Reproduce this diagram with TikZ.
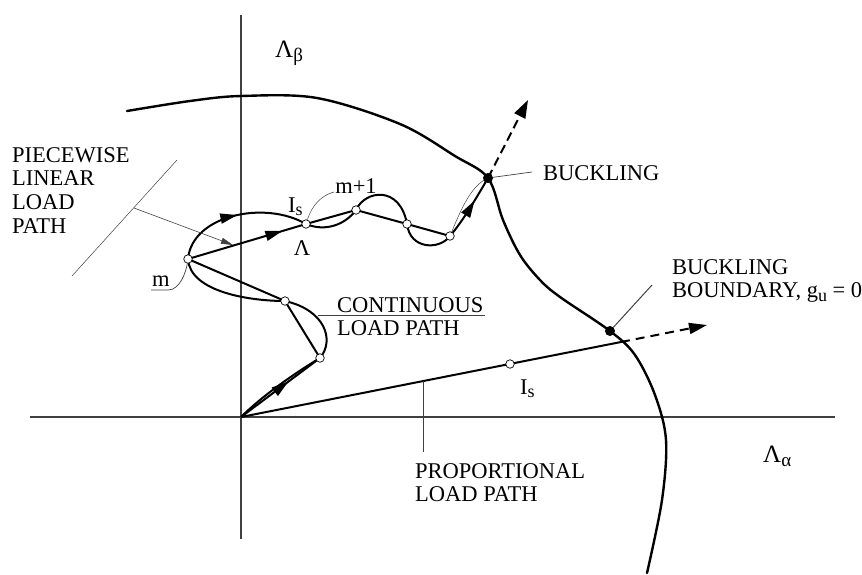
\documentclass[tikz,border=0pt]{standalone}
\usepackage{fontspec}
\setmainfont{Liberation Serif}
\usetikzlibrary{arrows.meta,decorations.markings}

\newcommand\lsub[1]{\raisebox{-3.5pt}{\fontsize{18}{18}\selectfont #1}}

\tikzset{
	axis/.style={black!75, line width=1.1pt},
	boundary/.style={line width=2.4pt, line join=round, line cap=round},
	lpath/.style={line width=2pt, line join=round},
	leader/.style={black!75, line width=0.7pt},
	opendot/.style={circle, draw, line width=0.7pt, fill=white, inner sep=0pt, minimum size=8.5pt},
	blackdot/.style={circle, fill, inner sep=0pt, minimum size=10pt},
	midarrow/.style={postaction={decorate, decoration={markings,
		mark=at position #1 with {\arrow{Triangle[length=17pt,width=10pt]}}}}},
	lbl/.style={font=\fontsize{22.5}{23.7}\selectfont, inner sep=0pt},
	axlbl/.style={font=\fontsize{25}{26}\selectfont, inner sep=0pt},
}

\begin{document}
\begin{tikzpicture}[x=1pt, y=-1pt]
		\useasboundingbox (0,0) rectangle (862,574);

		% Points of the load paths
		\coordinate (O) at (241,417);
		\coordinate (p1) at (320,358);
		\coordinate (p2) at (285,301);
		\coordinate (m) at (188,259);
		\coordinate (A) at (306,224);
		\coordinate (p4) at (356,210);
		\coordinate (p5) at (407,224);
		\coordinate (p6) at (450,236);
		\coordinate (B) at (488,178);
		\coordinate (BB) at (610,331);
		\coordinate (Is) at (510,364);
		\coordinate (cross) at (621,342);
		\coordinate (tipP) at (707,325);
		\coordinate (tipB) at (528,100);

		% Axes
		\draw[axis] (30,417) -- (835,417);
		\draw[axis] (241,15) -- (241,539);
		\node[axlbl, anchor=base west] (lbeta) at (275,57) {Λ\raisebox{-4pt}{\fontsize{19}{19}\selectfont β}};
		\node[axlbl, anchor=base west] (lalpha) at (763,462) {Λ\raisebox{-4pt}{\fontsize{19}{19}\selectfont α}};

		% Buckling boundary
		\draw[boundary] plot[smooth, tension=0.55] coordinates {(127,111) (190,101) (241,96) (317,98) (400,124) (455,156) (B) (503,220) (520,255) (540,280) (560,297) (BB) (635,355) (655,395) (666,440) (662,500) (647,573)};

		% Proportional load path
		\draw[lpath] (O) -- (cross);
		\draw[lpath, dash pattern=on 9pt off 6pt, -{Triangle[length=18pt,width=11pt]}] (cross) -- (tipP);
		\draw[leader] (423,381) -- (423,452);

		% Piecewise linear load path
		\draw[lpath, midarrow=0.6] (O) -- (p1);
		\draw[lpath] (p1) -- (p2) -- (m);
		\draw[lpath, midarrow=0.8] (m) -- (A);
		\draw[lpath] (A) -- (p4) -- (p5) -- (p6);
		\draw[lpath, midarrow=0.62] (p6) .. controls (462,222) and (474,202) .. (B);
		\draw[leader, line width=0.5pt] (p6) .. controls (460,212) and (470,186) .. (B);

		% Continuous load path
		\draw[lpath] (O) .. controls (262,396) and (295,373) .. (p1);
		\draw[lpath] (p1) .. controls (335,340) and (325,310) .. (p2)
			.. controls (250,301) and (190,292) .. (m);
		\draw[lpath, midarrow=0.5] (m) .. controls (192,215) and (265,200) .. (A);
		\draw[lpath] (A) .. controls (325,232) and (345,225) .. (p4)
			.. controls (365,190) and (400,185) .. (p5)
			.. controls (410,250) and (440,250) .. (p6);

		% Buckling direction
		\draw[lpath, dash pattern=on 9pt off 5pt, -{Triangle[length=18pt,width=12pt]}] (B) -- (tipB);

		% Dots
		\foreach \p in {p1,p2,m,A,p4,p5,p6,Is}
			\node[opendot] (d\p) at (\p) {};
		\node[blackdot] (dB) at (B) {};
		\node[blackdot] (dBB) at (BB) {};

		% Leaders
		\coordinate (bkend) at (532,172);
		\coordinate (bbend) at (652,285);
		\draw[leader] (dB) -- (bkend);
		\draw[leader, line width=1pt] (dBB) -- (bbend);
		\draw[leader] (318,315) -- (485,315);
		\draw[leader] (151,290) -- (168,290) .. controls (180,290) and (186,272) .. (dm);
		\draw[leader, line width=0.5pt] (dA) .. controls (312,205) and (322,195) .. (334,192);
		\draw[leader, line width=0.5pt] (72,276) -- (177,160);
		\draw[leader, line width=0.6pt, -{Triangle[length=12pt,width=6pt]}] (134,208) -- (233,245);

		% Labels
		\node[lbl, anchor=north west, align=left] (pwlbl) at (12,147) {PIECEWISE\\LINEAR\\LOAD\\PATH};
		\node[lbl, anchor=north west, align=left] (ctlbl) at (337,297) {CONTINUOUS\\LOAD PATH};
		\node[lbl, anchor=west] (bklbl) at (543,173) {BUCKLING};
		\node[lbl, anchor=north west, align=left] (bblbl) at (672,259) {BUCKLING\\BOUNDARY, g\lsub{u} = 0};
		\node[lbl, anchor=north west, align=left] (prlbl) at (415,463) {PROPORTIONAL\\LOAD PATH};
		\node[lbl, anchor=base west] (mlbl) at (152,286) {m};
		\node[lbl, anchor=base] (m1lbl) at (356,193) {m+1};
		\node[lbl, anchor=base west] (islbl) at (288,212) {I\lsub{s}};
		\node[lbl, anchor=base] (lamlbl) at (302,255) {Λ};
		\node[lbl, anchor=base west] (is2lbl) at (520,394) {I\lsub{s}};
	\end{tikzpicture}
\end{document}
